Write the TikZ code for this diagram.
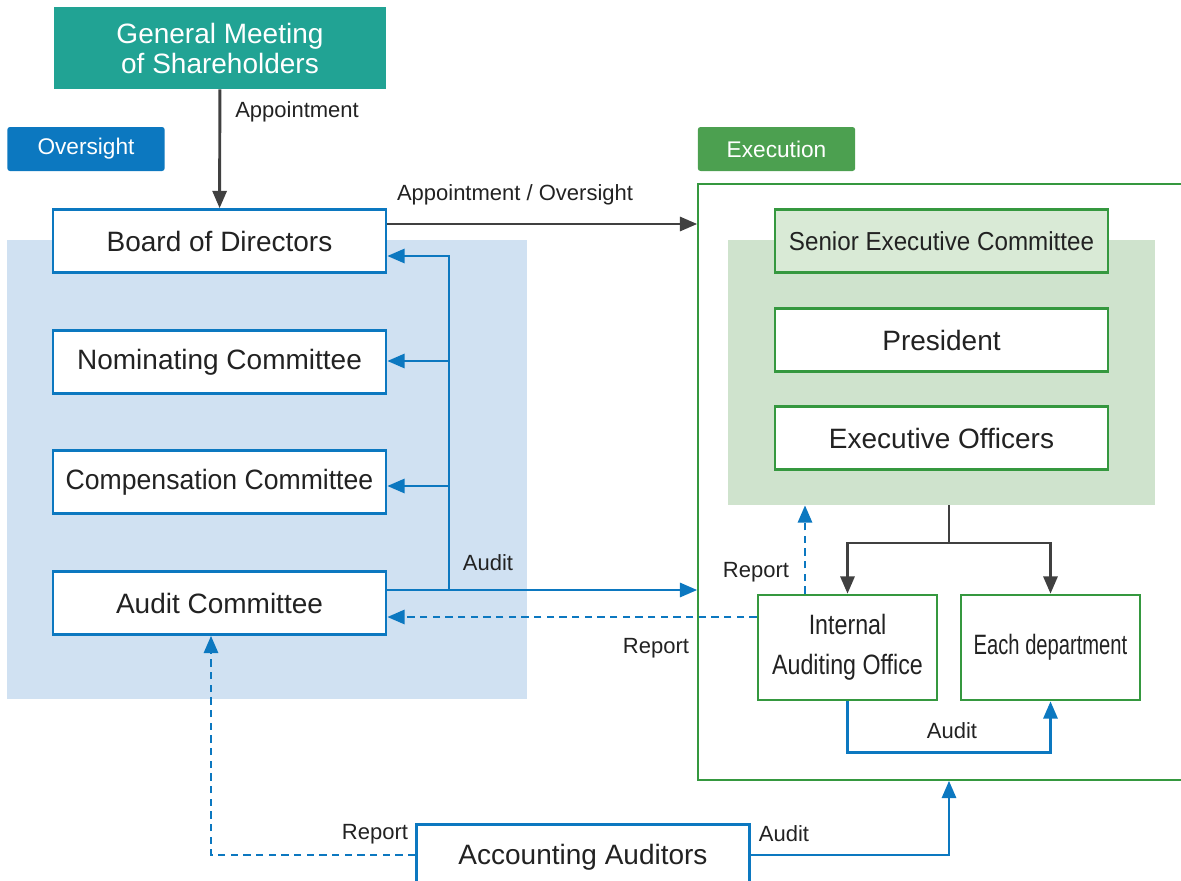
\documentclass[tikz,border=0pt]{standalone}
\usepackage{fontspec}
\setmainfont{Liberation Sans}
\newfontfamily\secfont[FakeStretch=0.93]{Liberation Sans}
\newfontfamily\compfont[FakeStretch=0.95]{Liberation Sans}
\newfontfamily\iaofont[FakeStretch=0.83]{Liberation Sans}
\newfontfamily\deptfont[FakeStretch=0.72]{Liberation Sans}
\usetikzlibrary{arrows.meta}
\definecolor{ink}{RGB}{34,34,34}
\definecolor{dark}{RGB}{64,64,64}
\definecolor{oblue}{RGB}{12,120,192}
\definecolor{bluebg}{RGB}{208,225,242}
\definecolor{gteal}{RGB}{33,163,148}
\definecolor{tgreen}{RGB}{76,160,80}
\definecolor{egreen}{RGB}{53,152,63}
\definecolor{greenbg}{RGB}{207,227,205}
\definecolor{secfill}{RGB}{217,234,214}
\newcommand{\boxfont}{\fontsize{21}{22.5}\selectfont}
\newcommand{\lblfont}{\fontsize{16.5}{20}\selectfont}
\newcommand{\tagfont}{\fontsize{17}{20}\selectfont}
\begin{document}
\begin{tikzpicture}[x=0.75pt,y=-0.75pt,every node/.style={text=ink},
 lbox/.style={draw=oblue,line width=1.9pt,fill=white,minimum width=249.75pt,minimum height=47.25pt,font=\boxfont},
 rbox/.style={draw=egreen,line width=1.9pt,fill=white,minimum width=249.75pt,minimum height=47.25pt,font=\boxfont},
 tag/.style={rounded corners=2pt,minimum width=118pt,minimum height=33pt,text=white,font=\tagfont},
 lbl/.style={font=\lblfont,inner sep=0pt},
 dk/.style={draw=dark,line width=2.2pt},
 dkarrow/.style={dk,-{Triangle[length=13pt,width=10.5pt]}},
 bl/.style={draw=oblue,line width=2.2pt,-{Triangle[length=13pt,width=10.5pt]}},
 bldash/.style={bl,dash pattern=on 5.5pt off 4pt}]
\useasboundingbox (0,0) rectangle (1181,881);
\fill[bluebg] (7,240) rectangle (527,699);
\node[draw=egreen,line width=1.1pt,minimum width=376.5pt,minimum height=447pt] (exec) at (949,482) {};
\node[fill=greenbg,minimum width=320.25pt,minimum height=198.75pt] (exbg) at (941.5,372.5) {};

\node[fill=gteal,minimum width=249pt,minimum height=61.5pt,text=white,align=center,font=\boxfont] (gms) at (220,48) {General Meeting\\of Shareholders};
\node[tag,fill=oblue] (ovs) at (86,149) {Oversight};
\node[tag,fill=tgreen] (exe) at (776.5,149) {Execution};

\foreach \n/\y/\t/\f in {board/241/Board of Directors/\boxfont,nom/362/Nominating Committee/\boxfont,comp/482/Compensation Committee/\fontsize{21}{22.5}\compfont,audit/603/Audit Committee/\boxfont}
  \node[lbox,font=\f] (\n) at (219.5,\y) {\t};

\node[rbox,fill=secfill,font=\fontsize{19.5}{23}\secfont] (sec) at (941.5,241) {Senior Executive Committee};
\foreach \n/\y/\t in {pres/340/President,eo/438/Executive Officers}
  \node[rbox] (\n) at (941.5,\y) {\t};
\node[rbox,minimum width=134.25pt,minimum height=78.75pt,align=center,font=\fontsize{21}{30}\iaofont] (iao) at (847.5,647.5) {Internal\\Auditing Office};
\node[rbox,minimum width=134.25pt,minimum height=78.75pt,font=\fontsize{21}{25}\deptfont] (ed) at (1050.5,647.5) {Each department};
\node[lbox,minimum height=49.5pt] (aa) at (583,857.5) {Accounting Auditors};

\draw[dkarrow] (gms) -- (board);
\node[lbl,anchor=west] (lapp) at (235,112) {Appointment};
\draw[dkarrow] (board.east |- 0,224) -- (exec.west |- 0,224);
\node[lbl] (lao) at (515,195) {Appointment / Oversight};

\coordinate (aj) at (449,590);
\draw[bl] (audit.east |- aj) -- (exec.west |- aj);
\draw[bl] (aj) |- (board.east |- 0,256);
\draw[bl] (aj) |- (nom.east |- 0,361);
\draw[bl] (aj) |- (comp.east |- 0,486);
\node[lbl] (laud) at (488,563) {Audit};
\draw[bldash] (iao.west |- 0,617) -- (audit.east |- 0,617);
\node[lbl] (lrep) at (656,648) {Report};

\coordinate (sp) at (949,543);
\draw[dk] (exbg.south -| sp) -- (sp);
\draw[dkarrow] (sp) -| (iao.north);
\draw[dkarrow] (sp) -| (ed.north);
\draw[bldash] (iao.north -| 805,0) -- (exbg.south -| 805,0);
\node[lbl] (lrepi) at (756,572) {Report};
\draw[bl] (iao.south) -- ++(0,51) -| (ed.south);
\node[lbl] (laudi) at (952,731) {Audit};

\draw[bldash] (aa.west |- 0,855) -| (audit.south -| 211,0);
\node[lbl] (lrepa) at (375,834) {Report};
\draw[bl] (aa.east |- 0,855) -| (exec.south);
\node[lbl] (lauda) at (784,834) {Audit};
\end{tikzpicture}
\end{document}
